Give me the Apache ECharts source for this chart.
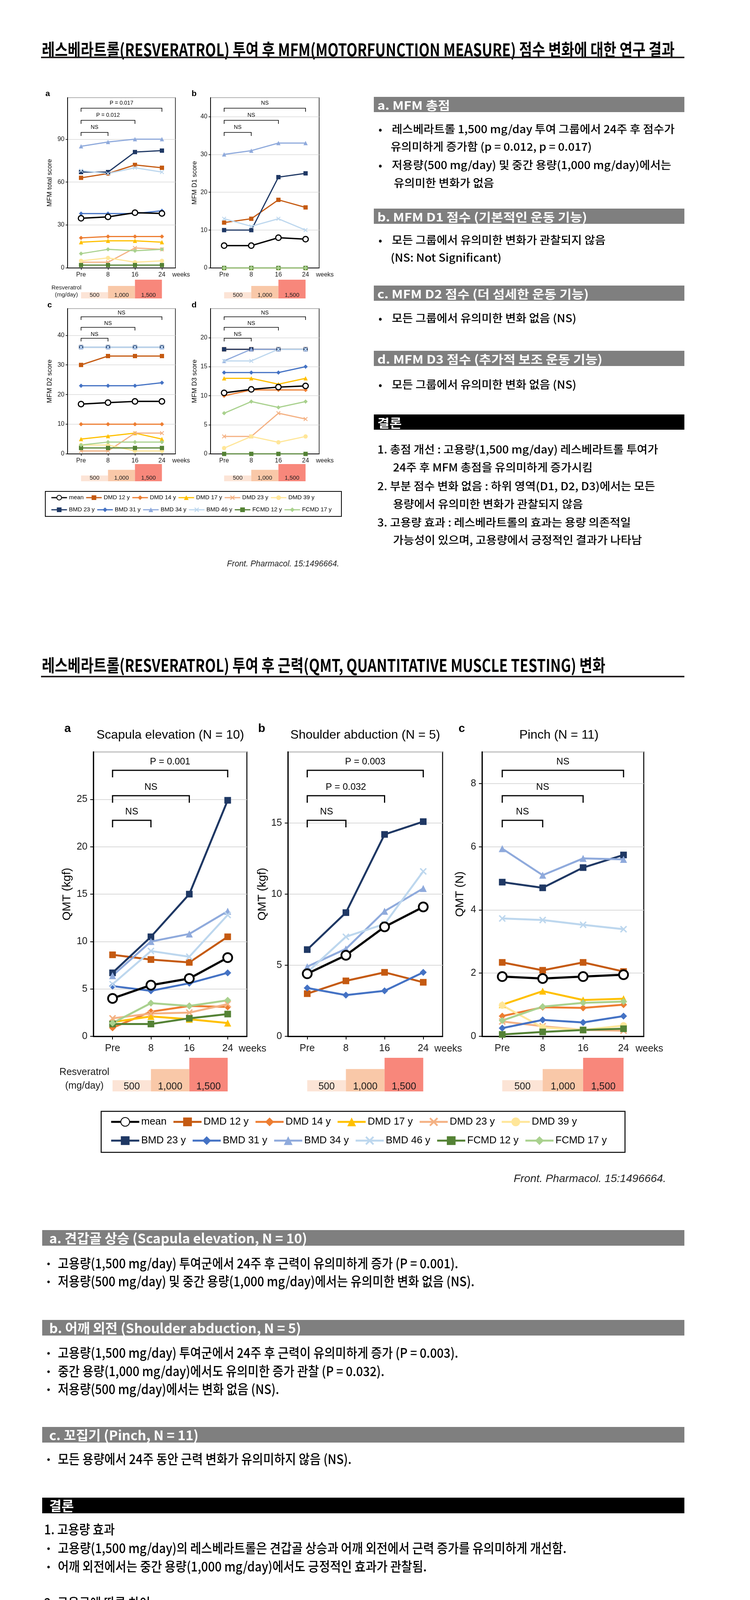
<!DOCTYPE html>
<html><head><meta charset="utf-8">
<script src="https://cdn.jsdelivr.net/npm/echarts@6/dist/echarts.min.js"></script>
<style>
html,body{margin:0;padding:0;background:#fff;}
#page{position:relative;width:1920px;height:4359px;overflow:hidden;background:#fff;}
#chart{position:absolute;left:0;top:0;width:1920px;height:4359px;}
#txt{position:absolute;left:0;top:0;width:1920px;height:4359px;pointer-events:none;}
.t{position:absolute;white-space:nowrap;transform-origin:0 50%;line-height:1.2;}
.r{position:absolute;}
</style></head><body>
<div id="page"><div id="chart"></div><div id="txt"></div></div>
<script>
// ---------------- DATA ----------------
const categories = ['Pre', '8', '16', '24'];
const subjects = ['mean', 'DMD 12 y', 'DMD 14 y', 'DMD 17 y', 'DMD 23 y', 'DMD 39 y',
                  'BMD 23 y', 'BMD 31 y', 'BMD 34 y', 'BMD 46 y', 'FCMD 12 y', 'FCMD 17 y'];
// rows follow the order of `subjects`
const mfmTotal = [
  [34.7, 35.7, 38.6, 38.1], [63, 66, 72, 70], [21, 22, 22, 22], [18, 19, 19, 18],
  [4, 4, 14, 13], [5, 7, 4, 5], [67, 67, 81, 82], [38, 38, 38, 40],
  [85, 88, 90, 90], [68, 66, 70, 67], [2, 2, 2, 2], [10, 13, 12, 13]
];
const mfmD1 = [
  [5.9, 5.9, 8.0, 7.6], [12, 13, 18, 16], [0, 0, 0, 0], [0, 0, 0, 0],
  [0, 0, 0, 0], [0, 0, 0, 0], [10, 10, 24, 25], [0, 0, 0, 0],
  [30, 31, 33, 33], [13, 11, 13, 10], [0, 0, 0, 0], [0, 0, 0, 0]
];
const mfmD2 = [
  [16.8, 17.3, 17.7, 17.7], [30, 33, 33, 33], [10, 10, 10, 10], [5, 6, 7, 5],
  [1, 1, 7, 7], [3, 3, 1, 1], [36, 36, 36, 36], [23, 23, 23, 24],
  [36, 36, 36, 36], [36, 36, 36, 36], [2, 2, 2, 2], [3, 4, 4, 4]
];
const mfmD3 = [
  [10.5, 11.1, 11.5, 11.7], [18, 18, 18, 18], [10, 11, 11, 11], [13, 13, 12, 13],
  [3, 3, 7, 6], [1, 3, 2, 3], [18, 18, 18, 18], [14, 14, 14, 15],
  [16, 18, 18, 18], [16, 16, 18, 18], [0, 0, 0, 0], [7, 9, 8, 9]
];
const qmtScapula = [
  [4.0, 5.4, 6.1, 8.3], [8.6, 8.1, 7.8, 10.5], [0.9, 2.6, 3.2, 3.1], [1.5, 2.1, 1.8, 1.4],
  [1.9, 2.4, 2.5, 3.4], [null, null, null, null], [6.7, 10.5, 15.0, 24.9], [5.3, 4.8, 5.6, 6.7],
  [6.4, 10.0, 10.8, 13.2], [5.5, 9.0, 8.4, 12.8], [1.3, 1.3, 1.9, 2.35], [1.4, 3.5, 3.2, 3.8]
];
const qmtShoulder = [
  [4.4, 5.7, 7.7, 9.1], [3.0, 3.9, 4.5, 3.8], [null, null, null, null], [null, null, null, null],
  [null, null, null, null], [null, null, null, null], [6.1, 8.7, 14.2, 15.1], [3.4, 2.9, 3.2, 4.5],
  [4.9, 6.15, 8.8, 10.4], [4.5, 7.0, 7.9, 11.6], [null, null, null, null], [null, null, null, null]
];
const qmtPinch = [
  [1.89, 1.83, 1.89, 1.95], [2.34, 2.09, 2.34, 2.05], [0.64, 0.92, 0.9, 1.0], [1.0, 1.43, 1.15, 1.19],
  [0.47, 0.32, 0.2, 0.18], [0.98, 0.28, 0.2, 0.34], [4.88, 4.7, 5.34, 5.74], [0.26, 0.52, 0.44, 0.64],
  [5.94, 5.1, 5.63, 5.6], [3.73, 3.68, 3.53, 3.39], [0.06, 0.14, 0.2, 0.24], [0.5, 0.94, 1.06, 1.1]
];
// significance labels for Pre-8, Pre-16, Pre-24
const sigTotal = ['NS', 'P = 0.012', 'P = 0.017'];
const sigD1 = ['NS', 'NS', 'NS'];
const sigD2 = ['NS', 'NS', 'NS'];
const sigD3 = ['NS', 'NS', 'NS'];
const sigScapula = ['NS', 'NS', 'P = 0.001'];
const sigShoulder = ['NS', 'P = 0.032', 'P = 0.003'];
const sigPinch = ['NS', 'NS', 'NS'];
// resveratrol dose steps (mg/day) between category indices
const doseLevels = [500, 1000, 1500];
const doseLabels = ['500', '1,000', '1,500'];
const doseFrom = [0, 1, 2];
const doseTo = [1, 2, 3];

// ---------------- STYLE ----------------
const FONT = '"Liberation Sans", Arial, Helvetica, sans-serif';
const KR = '"Noto Sans CJK KR", "Noto Sans", sans-serif';
const subjectColors = ['#000000', '#C55A11', '#ED7D31', '#FFC000', '#F4B183', '#FFE699',
                       '#1F3864', '#4472C4', '#8FAADC', '#BDD7EE', '#548235', '#A9D18E'];
const XPATH = 'path://M0,1.4L1.4,0L5,3.6L8.6,0L10,1.4L6.4,5L10,8.6L8.6,10L5,6.4L1.4,10L0,8.6L3.6,5Z';
const subjectSymbols = ['circle', 'rect', 'diamond', 'triangle', XPATH, 'circle',
                        'rect', 'diamond', 'triangle', XPATH, 'rect', 'diamond'];
const doseColors = ['#FCE4D6', '#F9C8A8', '#F8877B'];

const panels = [
  {letter: 'a', data: mfmTotal, sig: sigTotal, left: 173, top: 250, width: 276, height: 436, max: 119, interval: 30, yName: 'MFM total score', nameGap: 37, big: false, doseBottom: 764, doseH: 48, resv: true, sigOff: [89, 58, 27], sigT: 13, sigDrop: 9, letterX: 122, letterY: 240},
  {letter: 'b', data: mfmD1, sig: sigD1, left: 539, top: 250, width: 278, height: 436, max: 45, interval: 10, yName: 'MFM D1 score', nameGap: 32, big: false, doseBottom: 764, doseH: 48, sigOff: [89, 58, 27], sigT: 13, sigDrop: 9, letterX: 497, letterY: 240},
  {letter: 'c', data: mfmD2, sig: sigD2, left: 173, top: 790, width: 276, height: 372, max: 49, interval: 10, yName: 'MFM D2 score', nameGap: 37, big: false, doseBottom: 1232, doseH: 44, sigOff: [76, 48, 21], sigT: 10, sigDrop: 8, letterX: 127, letterY: 781},
  {letter: 'd', data: mfmD3, sig: sigD3, left: 539, top: 790, width: 278, height: 372, max: 25, interval: 5, yName: 'MFM D3 score', nameGap: 32, big: false, doseBottom: 1232, doseH: 44, sigOff: [76, 48, 21], sigT: 10, sigDrop: 8, letterX: 497, letterY: 781},
  {letter: 'a', data: qmtScapula, sig: sigScapula, left: 239, top: 1925, width: 393, height: 728, max: 30, interval: 5, yName: 'QMT (kgf)', nameGap: 52, big: true, doseBottom: 2794, doseH: 86, resv: true, sigOff: [175, 112, 47], sigT: 22, sigDrop: 18, letterX: 173, letterY: 1866, title: 'Scapula elevation (N = 10)', titleX: 436},
  {letter: 'b', data: qmtShoulder, sig: sigShoulder, left: 737, top: 1925, width: 396, height: 728, max: 20, interval: 5, yName: 'QMT (kgf)', nameGap: 50, big: true, doseBottom: 2794, doseH: 86, sigOff: [175, 112, 47], sigT: 22, sigDrop: 18, letterX: 670, letterY: 1866, title: 'Shoulder abduction (N = 5)', titleX: 935},
  {letter: 'c', data: qmtPinch, sig: sigPinch, left: 1234, top: 1925, width: 414, height: 728, max: 9, interval: 2, yName: 'QMT (N)', nameGap: 41, big: true, doseBottom: 2794, doseH: 86, sigOff: [175, 112, 47], sigT: 22, sigDrop: 18, letterX: 1182, letterY: 1866, title: 'Pinch (N = 11)', titleX: 1431}
];

// ---------------- BUILD CHART ----------------
const grids = [], xAxes = [], yAxes = [], series = [], graphics = [];

function gtext(x, y, text, size, o) {
  o = o || {};
  const al = o.align || 'center';
  return {type: 'text', x: x, y: y, silent: true, z: 100,
    style: {text: text, fill: o.color || '#000', font: (o.bold ? 'bold ' : '') + size + 'px ' + FONT,
      align: al, verticalAlign: 'middle', textAlign: al, textVerticalAlign: 'middle'}};
}

panels.forEach((p, pi) => {
  const big = p.big;
  const gi = pi * 2;
  grids.push({left: p.left, top: p.top, width: p.width, height: p.height, show: true,
    borderColor: '#000', borderWidth: big ? 2.5 : 1.5, containLabel: false});
  grids.push({left: p.left, top: p.doseBottom - p.doseH, width: p.width, height: p.doseH, show: false});
  const lblSize = big ? 25 : 16;
  xAxes.push({type: 'category', gridIndex: gi, data: categories, boundaryGap: true,
    axisLine: {show: true, lineStyle: {color: '#000', width: big ? 3 : 2}},
    axisTick: {show: true, alignWithLabel: true, length: big ? 8 : 5, lineStyle: {color: '#000', width: big ? 2 : 1.5}},
    axisLabel: {color: '#1a1a1a', fontSize: lblSize, fontFamily: FONT, margin: big ? 19 : 10},
    splitLine: {show: false}});
  yAxes.push({type: 'value', gridIndex: gi, min: 0, max: p.max, interval: p.interval,
    axisLine: {show: true, lineStyle: {color: '#000', width: big ? 3 : 2}},
    axisTick: {show: true, length: big ? 8 : 5, lineStyle: {color: '#000', width: big ? 2 : 1.5}},
    axisLabel: {color: '#1a1a1a', fontSize: lblSize, fontFamily: FONT, margin: big ? 15 : 8, showMaxLabel: false},
    splitLine: {show: true, lineStyle: {color: '#d9d9d9', width: big ? 2 : 1.5}},
    name: p.yName, nameLocation: 'middle', nameGap: p.nameGap,
    nameTextStyle: {color: '#000', fontSize: big ? 30 : 17, fontFamily: FONT}});
  xAxes.push({type: 'value', gridIndex: gi + 1, min: -0.5, max: 3.5, show: false});
  yAxes.push({type: 'value', gridIndex: gi + 1, min: 0, max: 1500, show: false});

  // subject lines, mean last (on top)
  const order = [1, 2, 3, 4, 5, 6, 7, 8, 9, 10, 11, 0];
  order.forEach(si => {
    const isMean = si === 0;
    const sym = subjectSymbols[si];
    let size;
    if (isMean) size = big ? 23 : 14;
    else if (sym === 'rect') size = big ? 17 : 11;
    else size = big ? 18 : 11;
    series.push({
      type: 'line', name: subjects[si], xAxisIndex: gi, yAxisIndex: gi,
      data: p.data[si], symbol: sym, symbolSize: size, showSymbol: true,
      lineStyle: {color: subjectColors[si], width: isMean ? (big ? 5.5 : 3.5) : (big ? 5 : 3)},
      itemStyle: isMean ? {color: '#fff', borderColor: '#000', borderWidth: big ? 4.5 : 3} : {color: subjectColors[si]},
      z: isMean ? 4 : 3, animation: false, silent: true, emphasis: {disabled: true}
    });
  });

  // significance brackets
  series.push({
    type: 'custom', xAxisIndex: gi, yAxisIndex: gi, silent: true, z: 6, clip: false,
    data: p.sig.map((s, i) => [i + 1, 0]),
    renderItem: function (params, api) {
      const k = api.value(0);
      const x0 = api.coord([0, 0])[0], x1 = api.coord([k, 0])[0];
      const y = params.coordSys.y + p.sigOff[params.dataIndex];
      return {type: 'group', children: [
        {type: 'polyline', shape: {points: [[x0, y + p.sigDrop], [x0, y], [x1, y], [x1, y + p.sigDrop]]},
          style: {stroke: '#000', lineWidth: big ? 3 : 1.6, fill: null}},
        {type: 'text', style: {text: p.sig[params.dataIndex], x: (x0 + x1) / 2, y: y - p.sigT,
          fill: '#000', font: (big ? 24 : 14) + 'px ' + FONT,
          align: 'center', verticalAlign: 'middle', textAlign: 'center', textVerticalAlign: 'middle'}}
      ]};
    }
  });

  // dose bars
  series.push({
    type: 'custom', xAxisIndex: gi + 1, yAxisIndex: gi + 1, silent: true, z: 2, clip: false,
    data: doseLevels.map((v, i) => [doseFrom[i], doseTo[i], v]),
    renderItem: function (params, api) {
      const a = api.coord([api.value(0), 0]);
      const b = api.coord([api.value(1), api.value(2)]);
      return {type: 'group', children: [
        {type: 'rect', shape: {x: a[0], y: b[1], width: b[0] - a[0], height: a[1] - b[1]},
          style: {fill: doseColors[params.dataIndex]}},
        {type: 'text', style: {text: doseLabels[params.dataIndex], x: (a[0] + b[0]) / 2, y: a[1] - (big ? 12 : 8),
          fill: '#1a1a1a', font: (big ? 25 : 15) + 'px ' + FONT,
          align: 'center', verticalAlign: 'middle', textAlign: 'center', textVerticalAlign: 'middle'}}
      ]};
    }
  });

  // panel letters, titles, "weeks", resveratrol label
  graphics.push(gtext(p.letterX, p.letterY, p.letter, big ? 30 : 21, {bold: true}));
  if (p.title) graphics.push(gtext(p.titleX, 1882, p.title, 32));
  const labY = p.top + p.height + (big ? 32 : 18);
  graphics.push(gtext(p.left + p.width - (big ? 21 : 8), labY, 'weeks', big ? 25 : 16, {align: 'left', color: '#1a1a1a'}));
  if (p.resv) {
    const cx = big ? 216 : 170;
    graphics.push(gtext(cx, p.doseBottom - (big ? 49 : 27), 'Resveratrol', big ? 25 : 15, {color: '#1a1a1a'}));
    graphics.push(gtext(cx, p.doseBottom - (big ? 14 : 9), '(mg/day)', big ? 25 : 15, {color: '#1a1a1a'}));
  }
});

// legend boxes
graphics.push({type: 'rect', silent: true, z: 90, shape: {x: 116, y: 1258, width: 758, height: 64}, style: {fill: null, stroke: '#000', lineWidth: 2}});
graphics.push({type: 'rect', silent: true, z: 90, shape: {x: 259, y: 2845, width: 1341, height: 105}, style: {fill: null, stroke: '#000', lineWidth: 2.5}});

const legBase = {orient: 'horizontal', padding: 0, selectedMode: false, itemGap: 5};
const legends = [
  Object.assign({}, legBase, {data: subjects.slice(0, 6), left: 130, top: 1274 - 7.5, itemWidth: 40, itemHeight: 15,
    textStyle: {fontSize: 15, width: 72, fontFamily: FONT, color: '#000'}, lineStyle: {width: 3}}),
  Object.assign({}, legBase, {data: subjects.slice(6), left: 130, top: 1305 - 7.5, itemWidth: 40, itemHeight: 15,
    textStyle: {fontSize: 15, width: 72, fontFamily: FONT, color: '#000'}, lineStyle: {width: 3}}),
  Object.assign({}, legBase, {data: subjects.slice(0, 6), left: 282, top: 2873 - 14, itemWidth: 72, itemHeight: 28, itemGap: 15,
    textStyle: {fontSize: 26, width: 128, fontFamily: FONT, color: '#000'}, lineStyle: {width: 5}}),
  Object.assign({}, legBase, {data: subjects.slice(6), left: 282, top: 2921 - 14, itemWidth: 72, itemHeight: 28, itemGap: 15,
    textStyle: {fontSize: 26, width: 128, fontFamily: FONT, color: '#000'}, lineStyle: {width: 5}})
];

const chart = echarts.init(document.getElementById('chart'), null, {renderer: 'canvas', width: 1920, height: 4359});
chart.setOption({
  animation: false,
  backgroundColor: '#fff',
  grid: grids, xAxis: xAxes, yAxis: yAxes, series: series,
  legend: legends, graphic: {elements: graphics}
});

// ---------------- HTML TEXT ----------------
const txt = document.getElementById('txt');
function rect(x, y, w, h, c) {
  const d = document.createElement('div');
  d.className = 'r';
  d.style.cssText = 'left:' + x + 'px;top:' + y + 'px;width:' + w + 'px;height:' + h + 'px;background:' + c + ';';
  txt.appendChild(d);
}
function measure(s, size, weight) {
  const d = document.createElement('div'); d.className = 't'; d.style.fontSize = size + 'px'; d.style.fontWeight = weight; d.style.fontFamily = KR;
  d.textContent = s; txt.appendChild(d); const w = d.offsetWidth; txt.removeChild(d); return w;
}
function put(x, y, s, o) {
  o = o || {};
  const d = document.createElement('div');
  d.className = 't';
  d.textContent = s;
  d.style.left = x + 'px';
  d.style.top = y + 'px';
  d.style.fontSize = (o.size || 28) + 'px';
  d.style.fontWeight = o.weight || 400;
  d.style.color = o.color || '#000';
  d.style.fontFamily = o.family || KR;
  if (o.italic) d.style.fontStyle = 'italic';
  txt.appendChild(d);
  let sx = o.sx || 1;
  if (o.fit) sx = o.fit / d.offsetWidth;
  if (o.right !== undefined) d.style.left = (o.right - d.offsetWidth * sx) + 'px';
  d.style.transform = 'translateY(-50%) scaleX(' + sx + ')';
  return sx;
}

// Titles
put(107, 125, '레스베라트롤(RESVERATROL) 투여 후 MFM(MOTORFUNCTION MEASURE) 점수 변화에 대한 연구 결과', {size: 44, weight: 700, fit: 1620});
rect(105, 145, 1647, 4, '#231f20');
put(107, 1701, '레스베라트롤(RESVERATROL) 투여 후 근력(QMT, QUANTITATIVE MUSCLE TESTING) 변화', {size: 44, weight: 700, fit: 1443});
rect(105, 1730, 1647, 4, '#231f20');

// citations
put(0, 1443, 'Front. Pharmacol. 15:1496664.', {size: 22, italic: true, family: FONT, fit: 287, right: 868, color: '#222'});
put(0, 3017, 'Front. Pharmacol. 15:1496664.', {size: 28, italic: true, family: FONT, fit: 390, right: 1705, color: '#222'});

// Right panel
(function () {
  const hdrSx = 537 / measure('b. MFM D1 점수 (기본적인 운동 기능)', 30, 700);
  const bodySx = 724 / measure('레스베라트롤 1,500 mg/day 투여 그룹에서 24주 후 점수가', 28, 500);
  const rows = [
    ['bar', 248, 'a. MFM 총점'],
    ['b', 330, '레스베라트롤 1,500 mg/day 투여 그룹에서 24주 후 점수가'],
    ['c', 375, '유의미하게 증가함 (p = 0.012, p = 0.017)', 1000],
    ['b', 422, '저용량(500 mg/day) 및 중간 용량(1,000 mg/day)에서는'],
    ['c', 468, '유의미한 변화가 없음', 1008],
    ['bar', 534, 'b. MFM D1 점수 (기본적인 운동 기능)'],
    ['b', 614, '모든 그룹에서 유의미한 변화가 관찰되지 않음'],
    ['c', 659, '(NS: Not Significant)', 1000],
    ['bar', 731, 'c. MFM D2 점수 (더 섬세한 운동 기능)'],
    ['b', 814, '모든 그룹에서 유의미한 변화 없음 (NS)'],
    ['bar', 898, 'd. MFM D3 점수 (추가적 보조 운동 기능)'],
    ['b', 984, '모든 그룹에서 유의미한 변화 없음 (NS)'],
    ['blk', 1061, '결론'],
    ['n', 1150, '1. 총점 개선 : 고용량(1,500 mg/day) 레스베라트롤 투여가'],
    ['c', 1196, '24주 후 MFM 총점을 유의미하게 증가시킴', 1006],
    ['n', 1244, '2. 부분 점수 변화 없음 : 하위 영역(D1, D2, D3)에서는 모든'],
    ['c', 1290, '용량에서 유의미한 변화가 관찰되지 않음', 1006],
    ['n', 1337, '3. 고용량 효과 : 레스베라트롤의 효과는 용량 의존적일'],
    ['c', 1382, '가능성이 있으며, 고용량에서 긍정적인 결과가 나타남', 1006]
  ];
  rows.forEach(r => {
    const k = r[0], y = r[1], s = r[2];
    if (k === 'bar' || k === 'blk') {
      rect(957, y, 795, 39, k === 'bar' ? '#7f7f7f' : '#000');
      put(966, y + 19.5, s, {size: 30, weight: 700, color: '#fff', sx: hdrSx});
    } else if (k === 'b') {
      put(969, y, '•', {size: 26, weight: 500});
      put(1003, y, s, {size: 28, weight: 500, sx: bodySx});
    } else if (k === 'n') {
      put(966, y, s, {size: 28, weight: 500, sx: bodySx});
    } else {
      put(r[3], y, s, {size: 28, weight: 500, sx: bodySx});
    }
  });
})();

// Bottom panel
(function () {
  const base = 3149, k = 1.012;
  const hdrSx = 660 / measure('a. 견갑골 상승 (Scapula elevation, N = 10)', 34, 700);
  const bodySx = 1025 / measure('고용량(1,500 mg/day) 투여군에서 24주 후 근력이 유의미하게 증가 (P = 0.001).', 34, 500);
  const rows = [
    ['bar', 0, 'a. 견갑골 상승 (Scapula elevation, N = 10)'],
    ['b', 83, '고용량(1,500 mg/day) 투여군에서 24주 후 근력이 유의미하게 증가 (P = 0.001).'],
    ['b', 128.5, '저용량(500 mg/day) 및 중간 용량(1,000 mg/day)에서는 유의미한 변화 없음 (NS).'],
    ['bar', 227, 'b. 어깨 외전 (Shoulder abduction, N = 5)'],
    ['b', 309, '고용량(1,500 mg/day) 투여군에서 24주 후 근력이 유의미하게 증가 (P = 0.003).'],
    ['b', 356, '중간 용량(1,000 mg/day)에서도 유의미한 증가 관찰 (P = 0.032).'],
    ['b', 401.6, '저용량(500 mg/day)에서는 변화 없음 (NS).'],
    ['bar', 498, 'c. 꼬집기 (Pinch, N = 11)'],
    ['b', 578, '모든 용량에서 24주 동안 근력 변화가 유의미하지 않음 (NS).'],
    ['blk', 677, '결론'],
    ['n', 756, '1. 고용량 효과'],
    ['b', 803, '고용량(1,500 mg/day)의 레스베라트롤은 견갑골 상승과 어깨 외전에서 근력 증가를 유의미하게 개선함.'],
    ['b', 850, '어깨 외전에서는 중간 용량(1,000 mg/day)에서도 긍정적인 효과가 관찰됨.'],
    ['n', 942, '2. 근육군에 따른 차이'],
    ['b', 986, '견갑골 상승과 어깨 외전에서는 개선 효과가 뚜렷했으나, 꼬집기와 같은 작은 근육군에서는 유의미한 변화가 없었음']
  ];
  rows.forEach(r => {
    const kind = r[0], y = base + r[1] * k, s = r[2];
    if (kind === 'bar' || kind === 'blk') {
      rect(108, y, 1644, 40, kind === 'bar' ? '#7f7f7f' : '#000');
      put(126, y + 20, s, {size: 34, weight: 700, color: '#fff', sx: hdrSx});
    } else if (kind === 'b') {
      put(120, y, '•', {size: 24, weight: 500});
      put(148, y, s, {size: 34, weight: 500, sx: bodySx});
    } else {
      put(113, y, s, {size: 34, weight: 500, sx: bodySx});
    }
  });
})();
</script>
</body></html>
